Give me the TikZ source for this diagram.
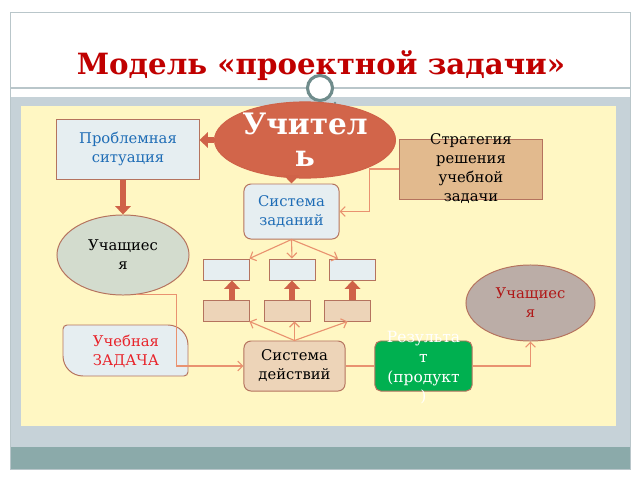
\documentclass[tikz,border=0pt]{standalone}
\usepackage{fontspec}
\setmainfont{DejaVu Serif}
\usetikzlibrary{arrows.meta,shapes.geometric}

\begin{document}
\begin{tikzpicture}[x=0.025cm,y=-0.025cm,
  box/.style={draw=edgeBrown,line width=0.7pt,fill=boxBlue,align=center,inner sep=1pt,
    font=\fontsize{10.5}{13.5}\selectfont},
  blob/.style={ellipse,draw=edgeBrown,line width=0.7pt,align=center,inner sep=0pt,
    font=\fontsize{10.5}{13.5}\selectfont},
  cell/.style={draw=edgeBrown,line width=0.7pt,minimum width=1.15cm,minimum height=0.525cm,inner sep=0pt},
  fat/.style={draw=arrowRed,line width=4.4pt,-{Triangle[length=6pt,width=11pt]}},
  link/.style={draw=lineSalmon,line width=0.8pt,-{Straight Barb[length=3.5pt,width=7pt]}}]
  \definecolor{slideGrey}{HTML}{C6D2D8}
  \definecolor{slideTeal}{HTML}{8BAAAA}
  \definecolor{frameLine}{HTML}{B9C6CA}
  \definecolor{ringGrey}{HTML}{6F8C8C}
  \definecolor{paper}{HTML}{FFF7C3}
  \definecolor{boxBlue}{HTML}{E6EEF1}
  \definecolor{boxPeach}{HTML}{EDD4B8}
  \definecolor{stratTan}{HTML}{E2BA8E}
  \definecolor{teacherRed}{HTML}{D2654A}
  \definecolor{pupilGreen}{HTML}{D3DCCE}
  \definecolor{pupilMauve}{HTML}{BBADA7}
  \definecolor{resultGreen}{HTML}{00B050}
  \definecolor{edgeBrown}{HTML}{B5735E}
  \definecolor{arrowRed}{HTML}{CF6248}
  \definecolor{lineSalmon}{HTML}{E99270}
  \definecolor{titleRed}{HTML}{C00000}
  \definecolor{textBlue}{HTML}{1F6DB6}
  \definecolor{taskRed}{HTML}{E8232A}
  \definecolor{darkRed}{HTML}{B01818}

  \useasboundingbox (0,0) rectangle (640,480);
  \fill[white] (0,0) rectangle (640,480);

  % slide frame
  \fill[slideGrey] (10,97) rectangle (630,447);
  \fill[slideTeal] (10,447) rectangle (630,469);
  \draw[frameLine,line width=0.5pt] (10,12) rectangle (630,469);
  \draw[frameLine,line width=0.8pt] (10,88) -- (630,88);
  \fill[paper] (21,106) rectangle (616,426);
  \draw[ringGrey,line width=2.2pt,fill=white] (320,88) circle (12.5);
  \fill[ringGrey] (335,103) circle (1.3);

  \node[text=titleRed,font=\bfseries\fontsize{20.8}{24}\selectfont] (title) at (321,66) {Модель «проектной задачи»};

  % top level
  \node[blob,fill=teacherRed,draw=arrowRed,minimum width=4.525cm,minimum height=1.6cm,
    text=white,font=\bfseries\fontsize{21}{23}\selectfont] (teacher) at (305,140) {Учител\\ь};
  \node[box,minimum width=3.55cm,minimum height=1.5cm,text=textBlue] (probl) at (128,149) {Проблемная\\ситуация};
  \node[box,fill=stratTan,minimum width=3.55cm,minimum height=1.5cm] (strat) at (471,169) {};
  \node[align=center,font=\fontsize{10.5}{13.5}\selectfont] (stratText) at (strat) {Стратегия\\решения\\учебной\\задачи};
  \node[box,rounded corners=5pt,minimum width=2.375cm,minimum height=1.375cm,text=textBlue] (sysz) at (291.5,211.5) {Система\\заданий};
  \node[blob,fill=pupilGreen,minimum width=3.3cm,minimum height=2cm] (pupL) at (123,255) {Учащиес\\я};

  % task cells
  \node[cell,fill=boxBlue] (t1) at (226,269.5) {};
  \node[cell,fill=boxBlue] (t2) at (292,269.5) {};
  \node[cell,fill=boxBlue] (t3) at (352.5,269.5) {};
  \node[cell,fill=boxPeach] (b1) at (226,310.5) {};
  \node[cell,fill=boxPeach] (b2) at (287,310.5) {};
  \node[cell,fill=boxPeach] (b3) at (347.5,310.5) {};

  % bottom level
  \filldraw[draw=edgeBrown,fill=boxBlue,line width=0.7pt] (63,356) -- (63,329)
    arc[start angle=180,end angle=270,radius=4] -- (168,325)
    arc[start angle=270,end angle=360,radius=20] -- (188,372)
    arc[start angle=0,end angle=90,radius=4] -- (83,376)
    arc[start angle=90,end angle=180,radius=20] -- cycle;
  \node[align=center,text=taskRed,font=\fontsize{10.5}{13.5}\selectfont] (task) at (126,351) {Учебная\\ЗАДАЧА};
  \node[box,fill=boxPeach,rounded corners=5pt,minimum width=2.525cm,minimum height=1.25cm] (sysd) at (294.5,366) {Система\\действий};
  \node[box,fill=resultGreen,rounded corners=4pt,minimum width=2.425cm,minimum height=1.25cm] (result) at (423.5,366) {};
  \node[align=center,text=white,font=\fontsize{11}{14}\selectfont] (resultText) at (423.5,368) {Результа\\т\\(продукт\\)};
  \node[blob,fill=pupilMauve,minimum width=3.225cm,minimum height=1.9cm,text=darkRed] (pupR) at (530.5,303) {Учащиес\\я};

  % connectors
  \draw[fat] (teacher.west) -- (teacher.west -| probl.east);
  \draw[fat] (pupL.north |- probl.south) -- (pupL.north);
  \draw[fat] (sysz.north |- teacher.south) -- (sysz.north);
  \draw[link] (strat.west) -- ++(-30,0) |- (sysz.east);

  \draw[link] (sysz.south) -- (t1.north east);
  \draw[link] (sysz.south) -- (t2.north);
  \draw[link] (sysz.south) -- ([xshift=0.225cm]t3.north west);

  \coordinate (up1) at ([xshift=0.15cm]t1.south);
  \draw[fat] (up1 |- b1.north) -- (up1);
  \draw[fat] (t2.south |- b2.north) -- (t2.south);
  \draw[fat] (t3.south |- b3.north) -- (t3.south);

  \draw[link] (sysd.north) -- (b1.south east);
  \draw[link] (sysd.north) -- (sysd.north |- b2.south);
  \draw[link] (sysd.north) -- (b3.south);

  \draw[link] (pupL.-72) -- ++(41,0) |- (sysd.west);
  \draw[link,-] (sysd.east) -- (result.west);
  \draw[link] (result.east) -| (pupR.south);

\end{tikzpicture}
\end{document}
